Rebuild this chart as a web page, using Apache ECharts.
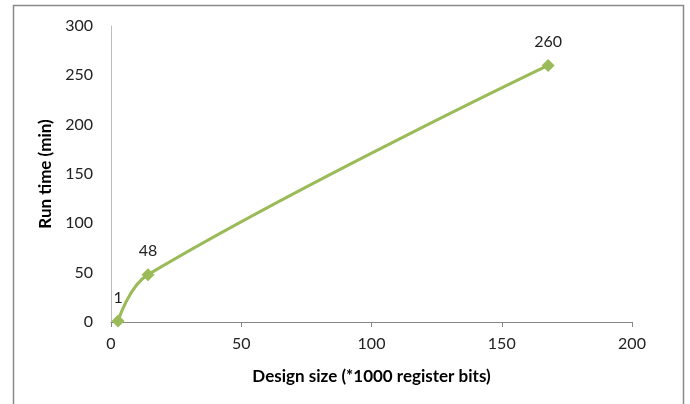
<!DOCTYPE html>
<html>
<head>
<meta charset="utf-8">
<style>
  html, body { margin: 0; padding: 0; background: #fff; }
  #chart { width: 690px; height: 404px; }
</style>
<script src="https://cdn.jsdelivr.net/npm/echarts@6/dist/echarts.min.js"></script>
</head>
<body>
<div id="chart"></div>
<script>
// Design size (thousands of register bits) vs. run time in minutes
const designSize = [2.7, 14.2, 167.8];
const runTime = [1, 48, 260];
const xTicks = [0, 50, 100, 150, 200];
const yTicks = [0, 50, 100, 150, 200, 250, 300];

const FONT = 'Lato, "Open Sans", sans-serif';
const GREEN = '#9bbb59';
const AXIS = '#868686';

const chart = echarts.init(document.getElementById('chart'), null, { renderer: 'canvas' });

chart.setOption({
  animation: false,
  backgroundColor: '#ffffff',
  graphic: [{
    type: 'rect',
    shape: { x: 13.5, y: 5.5, width: 670, height: 430 },
    style: { fill: 'none', stroke: '#8a8a8a', lineWidth: 1.5 },
    silent: true
  }],
  grid: { left: 111, right: 58, top: 26, bottom: 82, containLabel: false },
  xAxis: {
    type: 'value',
    min: xTicks[0],
    max: xTicks[xTicks.length - 1],
    interval: 50,
    name: 'Design size (*1000 register bits)',
    nameLocation: 'middle',
    nameGap: 46,
    nameTextStyle: { fontFamily: FONT, fontWeight: 'bold', fontSize: 17, color: '#000' },
    axisLine: { lineStyle: { color: AXIS, width: 1 } },
    axisTick: { show: true, length: 5, lineStyle: { color: AXIS } },
    axisLabel: { fontFamily: FONT, fontSize: 16, color: '#222', margin: 14 },
    splitLine: { show: false }
  },
  yAxis: {
    type: 'value',
    min: yTicks[0],
    max: yTicks[yTicks.length - 1],
    interval: 50,
    name: 'Run time (min)',
    nameLocation: 'middle',
    nameGap: 54,
    nameTextStyle: { fontFamily: FONT, fontWeight: 'bold', fontSize: 17, color: '#000' },
    axisLine: { show: true, lineStyle: { color: '#bdbdbd', width: 1 } },
    axisTick: { show: false },
    axisLabel: { fontFamily: FONT, fontSize: 16, color: '#222', margin: 18 },
    splitLine: { show: false }
  },
  series: [{
    type: 'line',
    data: designSize.map((x, i) => [x, runTime[i]]),
    smooth: 0.4,
    symbol: 'diamond',
    symbolSize: 13,
    lineStyle: { color: GREEN, width: 3 },
    itemStyle: { color: GREEN },
    label: {
      show: true,
      position: 'top',
      distance: 9,
      fontFamily: FONT,
      fontSize: 16,
      color: '#222',
      formatter: p => String(p.value[1])
    }
  }]
});
</script>
</body>
</html>
